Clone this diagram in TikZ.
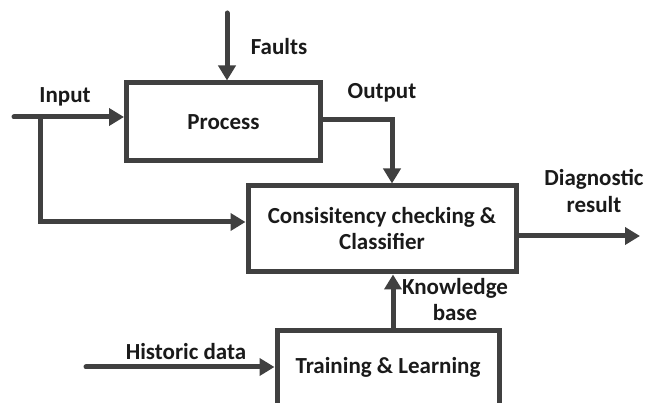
\documentclass[tikz,border=0pt]{standalone}
\usepackage{fontspec}
\setmainfont{Carlito}
\usetikzlibrary{arrows.meta,calc}
\definecolor{ln}{HTML}{404040}
\definecolor{tx}{HTML}{1A1A1A}
\tikzset{
  blk/.style={draw=ln,line width=5pt,fill=white,inner sep=0pt,align=center,text=tx,font=\fontsize{23}{26}\selectfont\bfseries},
  lbl/.style={inner sep=0pt,align=center,text=tx,font=\fontsize{23}{28}\selectfont\bfseries},
  conn/.style={draw=ln,line width=5pt,line cap=round,-{Triangle[width=17pt,length=15pt]}},
}
\begin{document}
\begin{tikzpicture}[x=1pt,y=-1pt]
\clip (0,0) rectangle (646,403);
\fill[white] (0,0) rectangle (646,403);
% boxes
\node[blk,minimum width=194pt,minimum height=78pt] (proc) at (223.5,122) {Process};
\node[blk,minimum width=268pt,minimum height=86pt] (cons) at (382,229) {Consisitency checking \&\\Classifier};
\node[blk,minimum width=222pt,minimum height=78pt,anchor=north] (train) at (388,328) {};
\node[text=tx,font=\fontsize{23}{26}\selectfont\bfseries] (traintxt) at (388,367) {Training \& Learning};
% coordinates
\coordinate (fa) at (227,13);
\coordinate (in) at (14,117);
\coordinate (br) at (40,117);
\coordinate (hd) at (86,367);
\coordinate (dr) at (640,236);
% connectors
\draw[conn] (fa) -- (fa |- proc.north);
\draw[conn] (in) -- (in -| proc.west);
\draw[conn] (br) |- ([yshift=7pt]cons.west);
\draw[conn] ([yshift=2pt]proc.east) -| ([xshift=10pt]cons.north);
\draw[conn] ([xshift=5pt]train.north) -- ([xshift=11pt]cons.south);
\draw[conn] (cons.east |- dr) -- (dr);
\draw[conn] (hd) -- (hd -| train.west);
% labels
\node[lbl] (lfa) at (279,47) {Faults};
\node[lbl] (lin) at (65,97) {Input};
\node[lbl] (lout) at (382,93) {Output};
\node[lbl] (ldr) at (594,191) {Diagnostic\\result};
\node[lbl,font=\fontsize{23}{26}\selectfont\bfseries] (lkb) at (455,300) {Knowledge\\base};
\node[lbl] (lhd) at (186,352) {Historic data};
\end{tikzpicture}
\end{document}
